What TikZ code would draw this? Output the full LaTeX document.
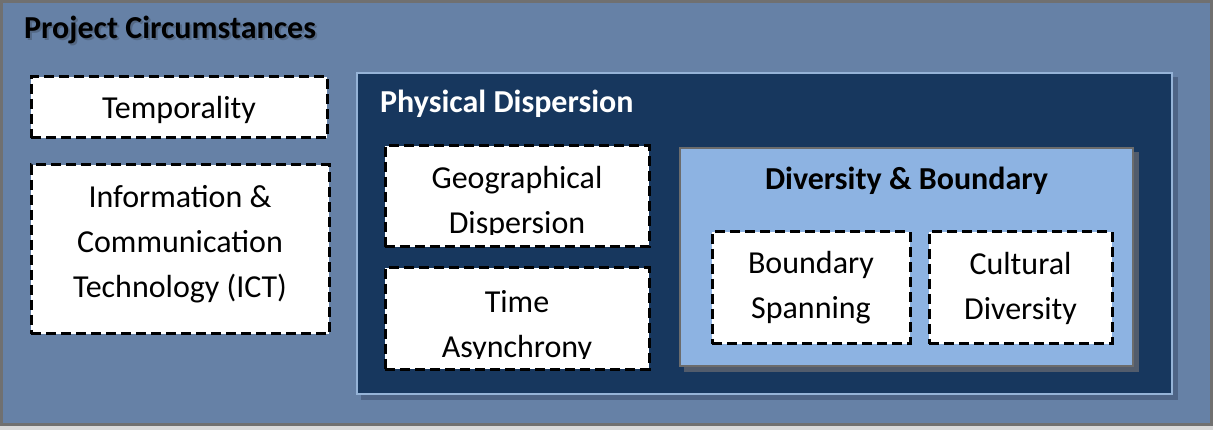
\documentclass[tikz,border=0pt]{standalone}
\usepackage{fontspec}
\setmainfont{Carlito}
\usetikzlibrary{positioning}
\definecolor{pagegray}{RGB}{217, 217, 217}
\definecolor{framegray}{RGB}{112, 112, 112}
\definecolor{circcolor}{RGB}{102, 129, 166}
\definecolor{titleshadow}{RGB}{84, 104, 132}
\definecolor{dispcolor}{RGB}{23, 55, 94}
\definecolor{dispedge}{RGB}{149, 179, 215}
\definecolor{dispshadow}{RGB}{78, 100, 134}
\definecolor{divcolor}{RGB}{141, 179, 226}
\definecolor{divedge}{RGB}{108, 108, 108}
\definecolor{divshadow}{RGB}{82, 92, 108}
\tikzset{
blocktext/.style={
  align=center,
  font=\fontsize{32}{45}\selectfont,
  text=black
},
dashblock/.style={
  draw=black,
  fill=white,
  dash pattern=on 10pt off 5pt,
  line width=3pt,
  inner sep=0pt,
  blocktext
},
circframe/.style={
  draw=framegray,
  fill=circcolor,
  line width=2.5pt
},
dispblock/.style={
  draw=dispedge,
  fill=dispcolor,
  line width=2.5pt
},
divblock/.style={
  draw=divedge,
  fill=divcolor,
  line width=2.5pt
},
shadowblock/.style={
  fill=#1,
  inner sep=0pt
},
titlelabel/.style={
  font=\bfseries\fontsize{32}{38}\selectfont,
  text=black,
  inner sep=0pt
}
}

\begin{document}
\begin{tikzpicture}[x=1pt,y=-1pt]
  \useasboundingbox (0,0) rectangle (1213,430);
  \fill[pagegray] (0,0) rectangle (1213,430);

  % outer frame
  \node[circframe, minimum width=1210pt, minimum height=423pt] (circ) at (606.5,213) {};
  \node[titlelabel, text=titleshadow, anchor=base west] (circshade) at (26,41) {Project Circumstances};
  \node[titlelabel, anchor=base west] (circtitle) at (24,39) {Project Circumstances};

  % left column
  \node[dashblock, minimum width=296pt, minimum height=61pt] (temp) at (179,107.5) {};
  \node[blocktext] (temptext) at (179,109.5) {Temporality};
  \node[dashblock, minimum width=298pt, minimum height=169pt] (ict) at (180,249.5) {};
  \node[blocktext] (icttext) at (180,244.5) {Information \&\\Communication\\Technology (ICT)};

  % physical dispersion
  \node[shadowblock=dispshadow, minimum width=817pt, minimum height=323pt] (dispshade) at (769.5,238.5) {};
  \node[dispblock, minimum width=815pt, minimum height=321pt] (disp) at (764.5,233.5) {};
  \node[titlelabel, text=white, anchor=base west] (disptitle) at (380,113) {Physical Dispersion};

  \node[dashblock, minimum width=264pt, minimum height=101pt] (geo) at (517,196.5) {};
  \node[dashblock, minimum width=264pt, minimum height=101pt] (async) at (517,318.5) {};
  \begin{scope}
    \clip (geo.north west) rectangle ([yshift=14pt]geo.south east);
    \node[blocktext] (geotext) at (517,202.5) {Geographical\\Dispersion};
  \end{scope}
  \begin{scope}
    \clip (async.north west) rectangle ([yshift=12pt]async.south east);
    \node[blocktext] (asynctext) at (517,326.5) {Time\\Asynchrony};
  \end{scope}

  % diversity and boundary
  \node[shadowblock=divshadow, minimum width=455pt, minimum height=220pt] (divshade) at (911.5,262) {};
  \node[divblock, minimum width=453pt, minimum height=218pt] (div) at (906.5,257) {};
  \node[titlelabel, anchor=base] (divtitle) at (906.5,190) {Diversity \& Boundary};

  \node[dashblock, minimum width=198pt, minimum height=112pt] (span) at (811,288) {Boundary\\Spanning};
  \node[dashblock, minimum width=183pt, minimum height=112pt] (cult) at (1020.5,288) {Cultural\\Diversity};
\end{tikzpicture}
\end{document}
